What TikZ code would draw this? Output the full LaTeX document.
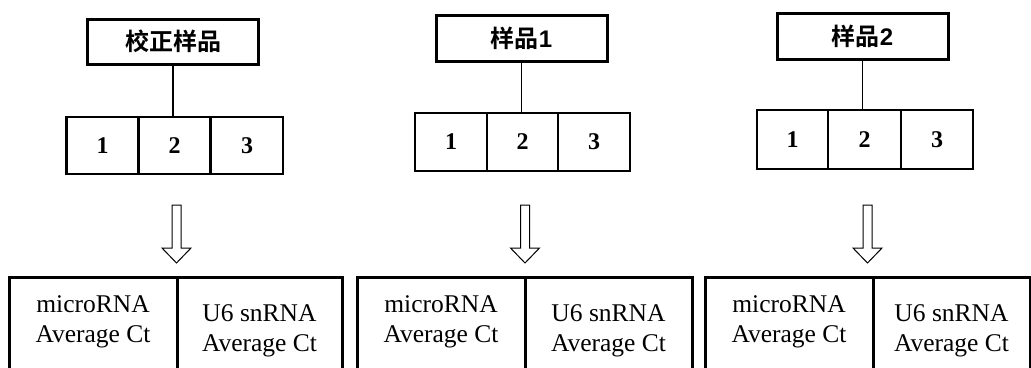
\documentclass[tikz,border=0pt]{standalone}
\usepackage{fontspec}
\setmainfont{Liberation Serif}
\newfontfamily\cjk{Noto Sans CJK SC}[BoldFont={Noto Sans CJK SC Bold}]
\newfontfamily\arialf{Liberation Sans}
\begin{document}
\begin{tikzpicture}[x=1pt,y=-1pt,
  titlebox/.style={draw, line width=3pt, inner sep=0pt, outer sep=0pt, minimum width=171pt, minimum height=45pt, font=\fontsize{24}{26}\selectfont\bfseries},
  cellbox/.style={draw, line width=2.5pt, inner sep=0pt, outer sep=0pt, minimum width=72pt, minimum height=57pt, font=\fontsize{24}{26}\selectfont\bfseries},
  resbox/.style={draw, line width=3pt, inner sep=0pt, outer sep=0pt, minimum height=120pt, anchor=north, align=center, font=\fontsize{25.5}{30}\selectfont},
  link/.style={line width=1.3pt},
  pics/downarrow/.style={code={
    \draw[line width=1pt] (-4.5,0) -- (-4.5,43) -- (-14.5,43) -- (0,58) -- (14.5,43) -- (4.5,43) -- (4.5,0) -- cycle;}}
]
\useasboundingbox (0,0) rectangle (1031,367);
\clip (0,0) rectangle (1031,367);

% ---- left group
\node[titlebox] (t0) at (173,41.5) {\cjk 校正样品};
\node[cellbox] (a1) at (102.5,145.5) {1};
\node[cellbox] (a2) at (174.5,145.5) {2};
\node[cellbox] (a3) at (247,145.5) {3};
\draw[link] (t0.south) -- (t0.south |- a2.north);
\pic at (176.5,205) {downarrow};
\node[resbox, minimum width=168pt, text depth=35pt] (ra) at (93,277) {microRNA\\Average Ct};
\node[resbox, minimum width=165pt, text depth=17pt] (rb) at (259.5,277) {U6 snRNA\\Average Ct};

% ---- middle group
\node[titlebox, minimum height=46pt] (t1) at (521.5,38) {\cjk 样品\arialf 1};
\node[cellbox, minimum height=58pt] (b1) at (451,142) {1};
\node[cellbox, minimum height=58pt, minimum width=71pt] (b2) at (522.5,142) {2};
\node[cellbox, minimum height=58pt] (b3) at (594,142) {3};
\draw[link] (t1.south) -- (t1.south |- b2.north);
\pic at (525,205) {downarrow};
\node[resbox, minimum width=168pt, text depth=35pt] (rc) at (441,277) {microRNA\\Average Ct};
\node[resbox, minimum width=167pt, text depth=17pt] (rd) at (608.5,277) {U6 snRNA\\Average Ct};

% ---- right group
\node[titlebox, minimum height=46pt] (t2) at (862.5,36) {\cjk 样品\arialf 2};
\node[cellbox, minimum height=59pt, minimum width=71pt] (c1) at (792.5,139.5) {1};
\node[cellbox, minimum height=59pt, minimum width=73pt] (c2) at (864.5,139.5) {2};
\node[cellbox, minimum height=59pt] (c3) at (937,139.5) {3};
\draw[link] (t2.south) -- (t2.south |- c2.north);
\pic at (867.5,205) {downarrow};
\node[resbox, minimum width=168pt, text depth=35pt] (re) at (789,277) {microRNA\\Average Ct};
\node[resbox, minimum width=157pt, text depth=17pt] (rf) at (951.5,277) {U6 snRNA\\Average Ct};
\end{tikzpicture}
\end{document}
